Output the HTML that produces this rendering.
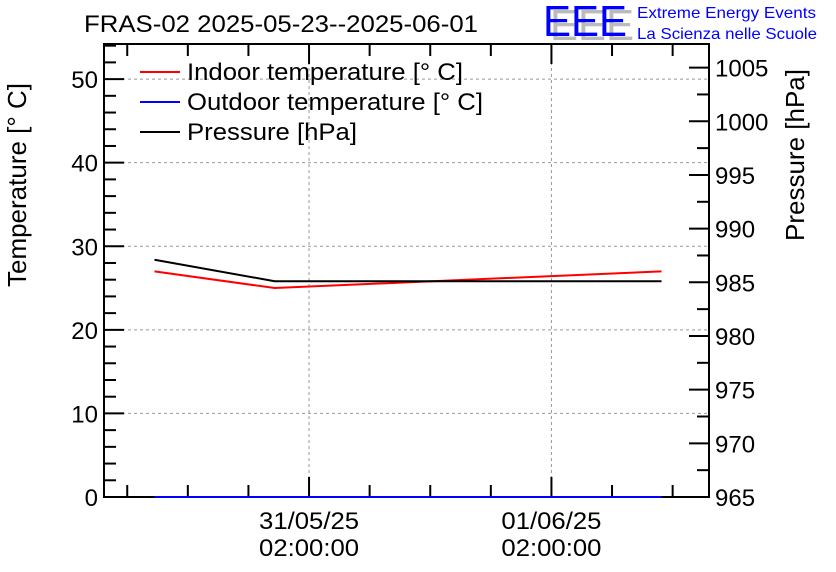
<!DOCTYPE html>
<html><head><meta charset="utf-8"><style>
html,body{margin:0;padding:0;background:#fff;width:836px;height:572px;overflow:hidden}
svg{display:block;font-family:"Liberation Sans",Arial,sans-serif}
</style></head><body>
<svg id="c" width="836" height="572">
<text x="84" y="32" font-size="24" fill="#000" textLength="394" lengthAdjust="spacingAndGlyphs">FRAS-02 2025-05-23--2025-06-01</text>
<g>
<text x="550" y="40" font-size="44" fill="#bbb" textLength="84" lengthAdjust="spacingAndGlyphs">EEE</text>
<text x="543" y="36" font-size="44" fill="#0000ff" textLength="84" lengthAdjust="spacingAndGlyphs">EEE</text>
<text x="637" y="18" font-size="16" fill="#0000ff" textLength="179" lengthAdjust="spacingAndGlyphs">Extreme Energy Events</text>
<text x="637" y="39" font-size="16" fill="#0000ff" textLength="180" lengthAdjust="spacingAndGlyphs">La Scienza nelle Scuole</text>
</g>
<text transform="translate(26,185) rotate(-90)" text-anchor="middle" font-size="26">Temperature [° C]</text>
<text transform="translate(804,155) rotate(-90)" text-anchor="middle" font-size="26">Pressure [hPa]</text>
<g id="grid"></g><g id="axes"></g>
<rect x="104" y="44" width="605" height="453" fill="none" stroke="#000" stroke-width="2"/>
<g id="series"></g>
<g>
<line x1="140" y1="72" x2="180" y2="72" stroke="#f00" stroke-width="2"/>
<text x="187" y="80" font-size="24" textLength="276" lengthAdjust="spacingAndGlyphs">Indoor temperature [° C]</text>
<line x1="140" y1="102" x2="180" y2="102" stroke="#00f" stroke-width="2"/>
<text x="187" y="110" font-size="24" textLength="296" lengthAdjust="spacingAndGlyphs">Outdoor temperature [° C]</text>
<line x1="140" y1="132" x2="180" y2="132" stroke="#000" stroke-width="2"/>
<text x="187" y="140" font-size="24" textLength="170" lengthAdjust="spacingAndGlyphs">Pressure [hPa]</text>
</g>
</svg>
<script>
// hours relative to 31/05/25 02:00:00
const timesHours = [-15.3, -3.4, 34.9];
const indoorTemp = [27.0, 25.0, 27.0];
const outdoorTemp = [0, 0, 0];
const pressure = [987.1, 985.1, 985.1];
const tempTicks = [0, 10, 20, 30, 40, 50];
const pressTicks = [965, 970, 975, 980, 985, 990, 995, 1000, 1005];
const xTickLabels = [["31/05/25", "02:00:00"], ["01/06/25", "02:00:00"]];
const xTickHours = [0, 24];

const L=104,R=709,T=44,B=497;
const hMin=-20.3,hMax=39.6,tMin=0,tMax=54.2,pMin=965,pMax=1007.2;
const xS=h=>L+(h-hMin)/(hMax-hMin)*(R-L);
const yT=v=>B-(v-tMin)/(tMax-tMin)*(B-T);
const yP=v=>B-(v-pMin)/(pMax-pMin)*(B-T);
const NS="http://www.w3.org/2000/svg";
function mk(tag,attrs,parent){const e=document.createElementNS(NS,tag);for(const k in attrs)e.setAttribute(k,attrs[k]);parent.appendChild(e);return e;}
const grid=document.getElementById('grid'),axes=document.getElementById('axes'),ser=document.getElementById('series');
tempTicks.forEach(v=>{
  if(v>0){const g=mk('line',{x1:L,x2:R,y1:yT(v),y2:yT(v),stroke:'#999','stroke-dasharray':'3,3','stroke-width':1},grid);
  
  }
  const t=mk('text',{x:L-6,y:yT(v)+9,'text-anchor':'end','font-size':24},axes);t.textContent=v;
  
  
});
for(let v=0;v<=54;v+=2){const len=v%10===0?20:12;mk('line',{x1:L,x2:L+len,y1:yT(v),y2:yT(v),stroke:'#000','stroke-width':2},axes);}
pressTicks.forEach(v=>{
  const t=mk('text',{x:R+6,y:yP(v)+9,'font-size':24},axes);t.textContent=v;
  
  
});
for(let v=965;v<=1007;v+=2.5){const len=v%5===0?20:12;mk('line',{x1:R-len,x2:R,y1:yP(v),y2:yP(v),stroke:'#000','stroke-width':2},axes);}
xTickHours.forEach((h,i)=>{
  const g=mk('line',{x1:xS(h),x2:xS(h),y1:T,y2:B,stroke:'#999','stroke-dasharray':'3,3','stroke-width':1},grid);
  
  
  [0,1].forEach(j=>{const t=mk('text',{x:xS(h),y:529+j*27,'text-anchor':'middle','font-size':24,textLength:100,lengthAdjust:'spacingAndGlyphs'},axes);t.textContent=xTickLabels[i][j];
  
  });
});
for(let h=-18;h<=39;h+=6){const len=h%24===0?20:12;
  mk('line',{x1:xS(h),x2:xS(h),y1:B-len,y2:B,stroke:'#000','stroke-width':2},axes);
  mk('line',{x1:xS(h),x2:xS(h),y1:T,y2:T+len,stroke:'#000','stroke-width':2},axes);}
function poly(vals,yf,color,name){
  const p=mk('polyline',{points:timesHours.map((h,i)=>xS(h)+','+yf(vals[i])).join(' '),fill:'none',stroke:color,'stroke-width':2},ser);
  
  
}
poly(indoorTemp,yT,'#f00','indoor-temperature-line');
poly(pressure,yP,'#000','pressure-line');
poly(outdoorTemp,yT,'#00f','outdoor-temperature-line');
</script>
</body></html>
